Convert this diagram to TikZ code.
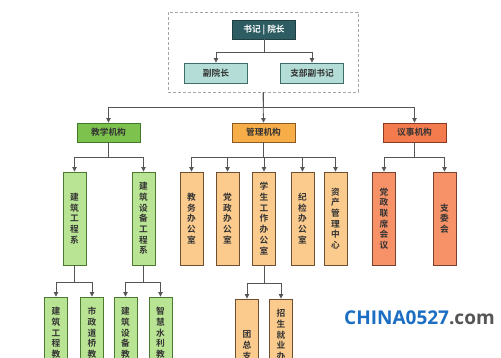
\documentclass[tikz,border=0pt]{standalone}
\usepackage{fontspec}
\setmainfont{Noto Sans CJK SC}[BoldFont={Noto Sans CJK SC Bold}]
\newfontfamily\wmfont{Open Sans}
\usetikzlibrary{arrows.meta}
\definecolor{topfill}{HTML}{2D5D62}
\definecolor{topdraw}{HTML}{1E3E42}
\definecolor{secfill}{HTML}{B3DDD6}
\definecolor{secdraw}{HTML}{3E6E6A}
\definecolor{gtwo}{HTML}{7CC24C}
\definecolor{gtwod}{HTML}{3F7A28}
\definecolor{gthree}{HTML}{B9E494}
\definecolor{gthreed}{HTML}{4A7A30}
\definecolor{otwo}{HTML}{F8AE48}
\definecolor{otwod}{HTML}{8A5A20}
\definecolor{othree}{HTML}{FBCB8E}
\definecolor{othreed}{HTML}{6E5030}
\definecolor{rtwo}{HTML}{F47B4E}
\definecolor{rtwod}{HTML}{8A3A20}
\definecolor{rthree}{HTML}{F69168}
\definecolor{rthreed}{HTML}{7A4030}
\definecolor{txt}{HTML}{333333}
\definecolor{conncol}{HTML}{555555}
\definecolor{wmblue}{HTML}{1B6EC2}
\definecolor{wmgrey}{HTML}{555555}
\tikzset{
  hbox/.style={draw, line width=0.9pt, minimum width=63pt, minimum height=19pt, inner sep=0pt,
    font=\fontsize{8.7}{10.7}\selectfont\bfseries, text=txt},
  vbox/.style={draw, line width=0.9pt, minimum width=23pt, minimum height=93pt, inner sep=0pt,
    align=center, font=\fontsize{8.7}{10.7}\selectfont\bfseries, text=txt},
  conn/.style={draw=conncol, line width=0.8pt},
  arr/.style={conn, -{Triangle[length=4.5pt,width=4.5pt]}},
  tealtop/.style={hbox, fill=topfill, draw=topdraw, text=white},
  tealsec/.style={hbox, fill=secfill, draw=secdraw, minimum height=20pt},
  green2/.style={hbox, fill=gtwo, draw=gtwod},
  orange2/.style={hbox, fill=otwo, draw=otwod},
  red2/.style={hbox, fill=rtwo, draw=rtwod},
  green3/.style={vbox, fill=gthree, draw=gthreed},
  orange3/.style={vbox, fill=othree, draw=othreed},
  red3/.style={vbox, fill=rthree, draw=rthreed},
}
\begin{document}
\begin{tikzpicture}[x=1pt,y=-1pt]
\clip (0,0) rectangle (501,358);
\fill[white] (0,0) rectangle (501,358);
% frame
\node[draw=gray!70, dashed, dash pattern=on 3pt off 2pt, line width=0.8pt,
  minimum width=190pt, minimum height=80pt, inner sep=0pt] (frame) at (263,52) {};
\node[tealtop] (top) at (264,29.5) {书记 | 院长};
\node[tealsec] (vp) at (216,73) {副院长};
\node[tealsec] (sec) at (312,73) {支部副书记};
\draw[arr] (top.south) -- ++(0,13) -| (vp.north);
\draw[arr] (top.south) -- ++(0,13) -| (sec.north);
% level 2
\node[green2] (teach) at (108.5,132.5) {教学机构};
\node[orange2] (mgmt) at (263.5,132.5) {管理机构};
\node[red2] (conf) at (414.5,132.5) {议事机构};
\draw[arr] (frame.south) -- (mgmt.north);
\draw[arr] (frame.south) -- ++(0,15) -| (teach.north);
\draw[arr] (frame.south) -- ++(0,15) -| (conf.north);
% level 3
\node[green3] (jz) at (74.5,218.5) {建\\筑\\工\\程\\系};
\node[green3] (jzsb) at (143.5,218.5) {建\\筑\\设\\备\\工\\程\\系};
\node[orange3] (jw) at (191.5,218.5) {教\\务\\办\\公\\室};
\node[orange3] (dz) at (227.5,218.5) {党\\政\\办\\公\\室};
\node[orange3] (xs) at (264,218.5) {学\\生\\工\\作\\办\\公\\室};
\node[orange3] (jj) at (302.5,218.5) {纪\\检\\办\\公\\室};
\node[orange3] (zc) at (335.5,218.5) {资\\产\\管\\理\\中\\心};
\node[red3] (lx) at (384,218.5) {党\\政\\联\\席\\会\\议};
\node[red3] (zw) at (444.5,218.5) {支\\委\\会};
\foreach \c in {jz,jzsb} \draw[arr] (teach.south) -- ++(0,15) -| (\c.north);
\foreach \c in {jw,dz,xs,jj,zc} \draw[arr] (mgmt.south) -- ++(0,15) -| (\c.north);
\foreach \c in {lx,zw} \draw[arr] (conf.south) -- ++(0,15) -| (\c.north);
% level 4
\node[green3] (jzjy) at (56,343.5) {建\\筑\\工\\程\\教\\研\\室};
\node[green3] (szjy) at (92,343.5) {市\\政\\道\\桥\\教\\研\\室};
\node[green3] (sbjy) at (125.5,343.5) {建\\筑\\设\\备\\教\\研\\室};
\node[green3] (slj) at (160.5,343.5) {智\\慧\\水\\利\\教\\研\\室};
\node[orange3] (tzz) at (247,345.5) {团\\总\\支};
\node[orange3] (zs) at (281,345.5) {招\\生\\就\\业\\办\\公\\室};
\foreach \c in {jzjy,szjy} \draw[arr] (jz.south) -- ++(0,17) -| (\c.north);
\foreach \c in {sbjy,slj} \draw[arr] (jzsb.south) -- ++(0,17) -| (\c.north);
\foreach \c in {tzz,zs} \draw[arr] (xs.south) -- ++(0,18) -| (\c.north);
% watermark
\node[anchor=base west, inner sep=0pt, font=\wmfont\bfseries\fontsize{19}{23}\selectfont] (wm) at (344,324)
  {\textcolor{wmblue}{CHINA0527}\textcolor{wmgrey}{.com}};
\end{tikzpicture}
\end{document}
